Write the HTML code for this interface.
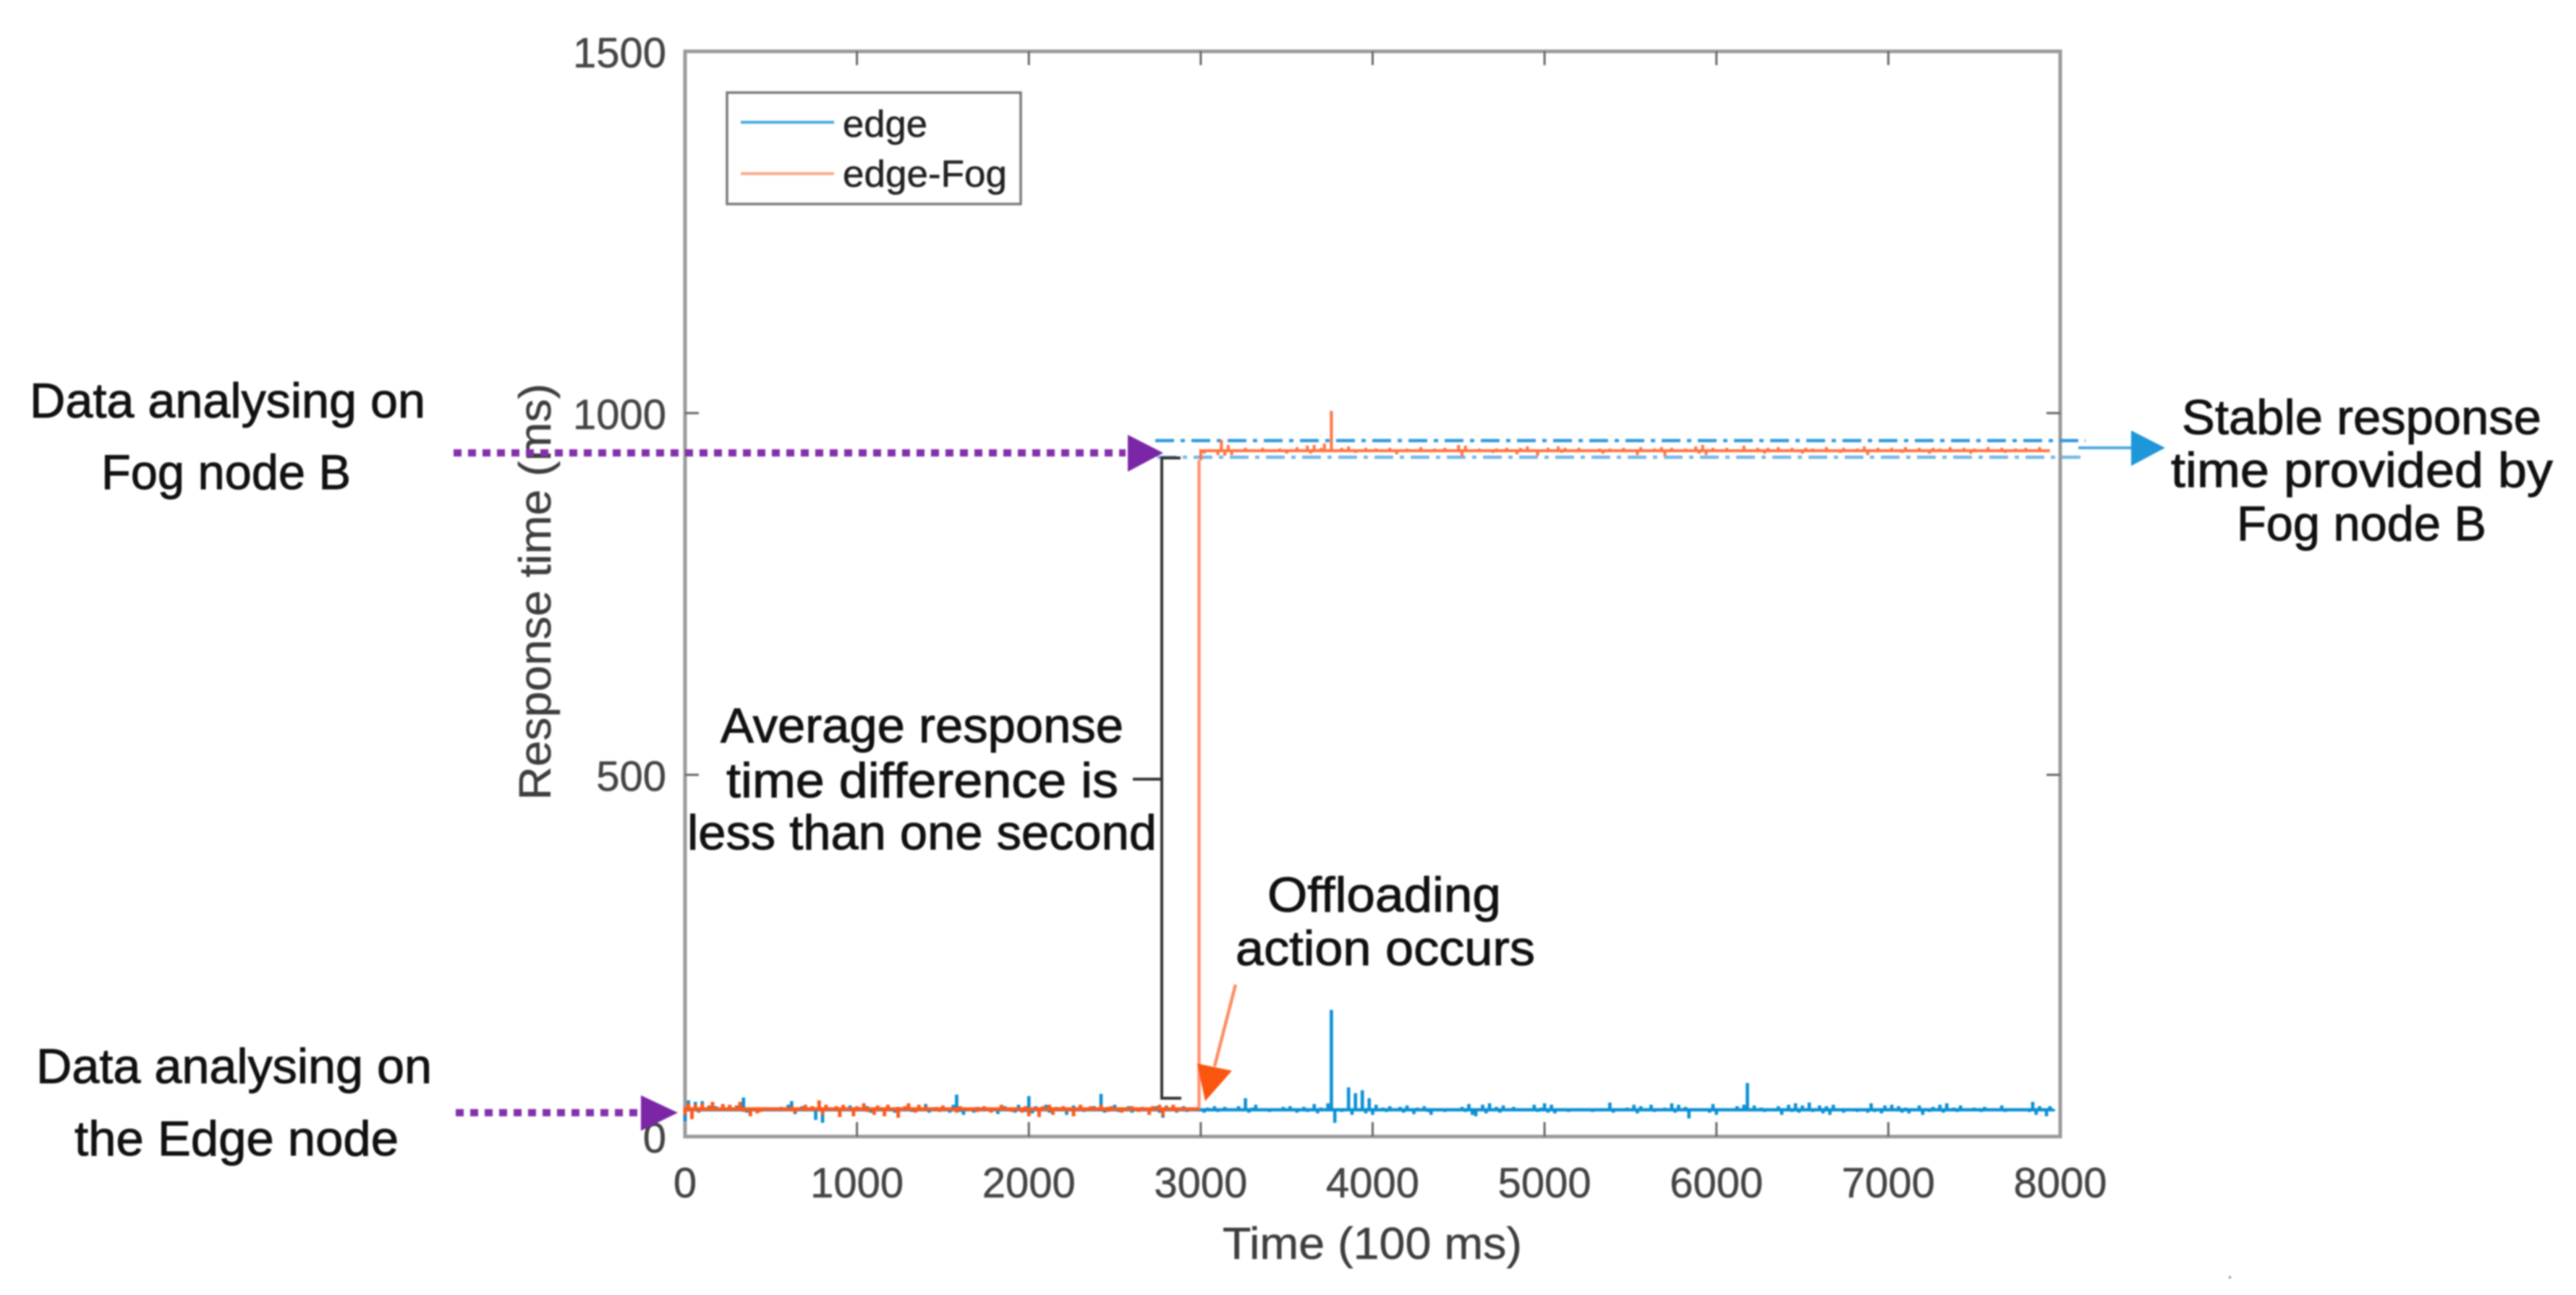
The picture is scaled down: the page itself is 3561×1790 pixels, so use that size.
<!DOCTYPE html>
<html lang="en">
<head>
<meta charset="utf-8">
<title>Response time chart</title>
<style>
html,body{margin:0;padding:0;background:#fff;width:3561px;height:1790px;overflow:hidden}
svg{display:block;filter:blur(1.1px)}
text{font-family:"Liberation Sans",sans-serif}
.callout{font-size:68px;fill:#111;stroke:#111;stroke-width:1}
.tick{font-size:58px;fill:#444;stroke:#444;stroke-width:.5}
.axis-title{font-size:62px;fill:#3e3e3e;stroke:#3e3e3e;stroke-width:.5}
.legend-text{font-size:52px;fill:#222;stroke:#222;stroke-width:.6}
</style>
</head>
<body>
<svg id="chart" xmlns="http://www.w3.org/2000/svg" width="3561" height="1790" viewBox="0 0 3561 1790">
  <rect x="0" y="0" width="3561" height="1790" fill="#fff"/>
  <rect x="947" y="71" width="1901" height="1500" fill="none" stroke="#9a9a9a" stroke-width="5"/>
  <g id="ticks"></g>

  <text class="axis-title" transform="translate(761,1106) rotate(-90)" textLength="576" lengthAdjust="spacingAndGlyphs">Response time (ms)</text>
  <text class="axis-title" x="1690" y="1740" textLength="414" lengthAdjust="spacingAndGlyphs">Time (100 ms)</text>

  <line x1="1597" y1="609" x2="2883" y2="609" stroke="#2f9adb" stroke-width="4.5" stroke-dasharray="26 9 6 9"/>
  <line x1="1600" y1="632" x2="2883" y2="632" stroke="#74b8e6" stroke-width="4.5" stroke-dasharray="26 9 6 9"/>

  <g id="series"></g>

  <g>
    <rect x="1005" y="128" width="406" height="154" fill="#fff" stroke="#7a7a7a" stroke-width="3.5"/>
    <line x1="1024" y1="169" x2="1153" y2="169" stroke="#45aee0" stroke-width="4"/>
    <line x1="1024" y1="240" x2="1153" y2="240" stroke="#ffa68a" stroke-width="4"/>
    <text class="legend-text" x="1165" y="189" textLength="117" lengthAdjust="spacingAndGlyphs">edge</text>
    <text class="legend-text" x="1165" y="258" textLength="227" lengthAdjust="spacingAndGlyphs">edge-Fog</text>
  </g>

  <path d="M1632 633 H1606 V1518 H1633 M1606 1077 H1566" fill="none" stroke="#333" stroke-width="4"/>

  <line x1="627" y1="626" x2="1556" y2="626" stroke="#8430aa" stroke-width="10" stroke-dasharray="11 9"/>
  <polygon points="1559,601 1608,626 1559,652" fill="#7b26a6"/>
  <line x1="630" y1="1538" x2="884" y2="1538" stroke="#8430aa" stroke-width="10" stroke-dasharray="11 9"/>
  <polygon points="886,1514 937,1538 886,1563" fill="#7b26a6"/>

  <line x1="2873" y1="619" x2="2950" y2="619" stroke="#4aa9e2" stroke-width="4"/>
  <polygon points="2946,595 2993,619 2946,644" fill="#1e97d8"/>

  <line x1="1708" y1="1361" x2="1679" y2="1474" stroke="#ff8a60" stroke-width="4.5"/>
  <polygon points="1655,1470 1703,1480 1666,1522" fill="#fb5510"/>

  <text class="callout" x="41" y="577" textLength="547" lengthAdjust="spacingAndGlyphs">Data analysing on</text>
  <text class="callout" x="140" y="676" textLength="345" lengthAdjust="spacingAndGlyphs">Fog node B</text>
  <text class="callout" x="50" y="1497" textLength="547" lengthAdjust="spacingAndGlyphs">Data analysing on</text>
  <text class="callout" x="103" y="1597" textLength="448" lengthAdjust="spacingAndGlyphs">the Edge node</text>
  <text class="callout" x="996" y="1026" textLength="557" lengthAdjust="spacingAndGlyphs">Average response</text>
  <text class="callout" x="1004" y="1102" textLength="542" lengthAdjust="spacingAndGlyphs">time difference is</text>
  <text class="callout" x="950" y="1174" textLength="649" lengthAdjust="spacingAndGlyphs">less than one second</text>
  <text class="callout" x="1752" y="1260" textLength="323" lengthAdjust="spacingAndGlyphs">Offloading</text>
  <text class="callout" x="1708" y="1334" textLength="414" lengthAdjust="spacingAndGlyphs">action occurs</text>
  <text class="callout" x="3016" y="600" textLength="497" lengthAdjust="spacingAndGlyphs">Stable response</text>
  <text class="callout" x="3001" y="673" textLength="528" lengthAdjust="spacingAndGlyphs">time provided by</text>
  <text class="callout" x="3092" y="747" textLength="345" lengthAdjust="spacingAndGlyphs">Fog node B</text>

  <rect x="3081" y="1764" width="3" height="3" fill="#888"/>
</svg>
<script>
const xTickValues = [0,1000,2000,3000,4000,5000,6000,7000,8000];
const yTickValues = [0,500,1000,1500];
const sampleStep = 20;
const offloadTime = 2990;

const edgeValues = [
21,50,30,48,33,49,35,43,36,42,38,44,35,41,37,43,40,54,33,38,
36,40,35,39,37,40,36,38,41,37,44,49,31,36,42,38,35,40,23,37,
19,36,40,37,42,35,39,36,43,34,40,36,38,42,33,40,37,35,39,41,
37,33,41,36,39,43,34,37,40,35,45,33,36,41,38,42,36,33,44,58,
34,30,40,37,33,41,36,42,35,38,40,31,37,42,36,39,33,44,36,34,
56,32,42,35,38,44,33,37,41,35,40,30,38,43,36,41,34,39,37,42,
36,59,33,41,37,44,34,40,36,42,33,38,35,41,37,34,39,42,33,26,
43,35,40,33,38,42,34,37,40,36,37,33,40,36,42,34,37,41,35,39,
36,42,35,53,33,40,44,35,38,36,34,39,36,37,41,36,42,38,33,37,
41,34,38,45,32,40,36,46,175,19,38,34,36,68,30,60,36,64,32,53,
30,44,36,40,34,42,37,35,41,33,43,36,31,40,36,42,34,30,38,36,
36,34,37,38,36,38,41,34,45,30,28,36,44,32,46,36,41,33,43,35,
37,41,36,38,35,39,37,44,34,40,46,33,44,32,36,37,35,34,37,36,
38,35,37,36,34,38,36,37,35,47,33,37,38,35,40,36,44,32,42,35,
38,44,34,39,35,40,37,46,33,44,36,41,25,37,38,35,39,36,33,45,
30,38,36,37,36,38,42,35,44,74,37,43,36,40,34,38,36,37,42,30,
36,44,34,46,33,43,36,47,34,38,43,32,42,30,44,36,37,33,38,36,
37,34,38,36,33,46,34,38,32,43,36,44,35,42,33,40,32,38,36,43,
30,38,34,41,36,44,33,46,35,40,34,43,36,38,36,40,37,34,41,36,
38,35,37,43,34,39,36,38,36,35,37,34,48,30,42,36,28,42,38
];

const fogBeforeOffload = [
30,46,24,44,34,46,36,42,48,40,36,45,38,44,36,42,48,34,40,28,
38,32,34,38,36,40,37,38,36,40,35,42,33,39,37,44,36,42,36,50,
30,44,36,38,42,27,44,36,40,28,42,36,46,34,38,30,43,36,28,44,
37,40,26,38,42,46,36,33,44,35,42,38,36,40,34,43,38,36,40,33,
42,36,40,35,38,34,36,42,37,33,40,36,44,36,38,34,40,36,33,42,
28,40,36,27,42,38,44,30,38,36,42,34,40,28,38,44,35,38,42,36,
40,44,38,34,42,36,40,33,38,36,42,38,34,40,36,30,42,36,44,28,
42,38,44,34,36,40,38,36,40,36
];

const fogAfterOffload = [
935,944,946,950,946,942,963,941,956,942,950,946,948,952,947,950,948,946,952,948,
947,950,946,951,948,944,950,948,953,947,950,955,944,956,948,952,958,948,1003,950,
946,952,947,954,948,945,950,947,952,946,949,951,947,950,948,952,946,943,950,947,
951,948,950,947,953,948,950,947,951,949,947,952,948,950,947,956,940,955,947,950,
948,951,947,950,948,945,951,949,946,952,948,950,943,952,947,954,946,950,941,950,
948,952,947,950,954,945,952,947,950,948,952,946,950,947,950,948,951,944,949,951,
947,950,948,952,946,949,947,942,953,950,947,949,951,948,953,941,948,952,947,950,
948,951,946,950,954,944,956,942,948,952,947,950,948,952,946,950,947,950,955,948,
950,946,952,948,944,952,947,950,953,947,950,948,952,946,950,944,952,948,951,947,
950,948,953,946,950,948,945,952,947,950,948,951,947,954,942,950,948,952,946,950,
947,952,948,950,945,953,948,950,946,952,947,950,944,952,948,951,947,950,953,946,
950,948,952,947,944,951,948,950,946,953,948,950,947,952,945,950,948,951,947,950,
952,946,950,948,953,947,950,948
];

const SVG_NS = "http://www.w3.org/2000/svg";
const plot = {left: 947, right: 2848, top: 71, bottom: 1571};
const xDomain = [0, 8000];
const yDomain = [0, 1500];

function xScale(v) {
  return plot.left + (v - xDomain[0]) / (xDomain[1] - xDomain[0]) * (plot.right - plot.left);
}
function yScale(v) {
  return plot.bottom - (v - yDomain[0]) / (yDomain[1] - yDomain[0]) * (plot.bottom - plot.top);
}
function median(values) {
  const sorted = values.slice().sort(function (a, b) { return a - b; });
  return sorted[Math.floor(sorted.length / 2)];
}
/* Each sample is a sharp vertical excursion from the series' running level,
   which is how the dense trace reads at this resolution. */
function spikePath(values, startTime) {
  const level = yScale(median(values)).toFixed(2);
  return values.map(function (v, i) {
    const x = xScale(startTime + i * sampleStep).toFixed(2);
    const cmd = i === 0 ? "M" : "L";
    return cmd + x + " " + level + " L" + x + " " + yScale(v).toFixed(2) + " L" + x + " " + level;
  }).join(" ");
}

const ticksGroup = document.getElementById("ticks");
const seriesGroup = document.getElementById("series");

function addTickLine(x1, y1, x2, y2) {
  const l = document.createElementNS(SVG_NS, "line");
  l.setAttribute("x1", x1);
  l.setAttribute("y1", y1);
  l.setAttribute("x2", x2);
  l.setAttribute("y2", y2);
  l.setAttribute("stroke", "#666");
  l.setAttribute("stroke-width", "3");
  
  
  ticksGroup.appendChild(l);
}

xTickValues.forEach(function (v) {
  const x = xScale(v);
  if (v !== xDomain[0] && v !== xDomain[1]) {
    addTickLine(x, plot.bottom, x, plot.bottom - 20);
    addTickLine(x, plot.top, x, plot.top + 19);
  }
  const t = document.createElementNS(SVG_NS, "text");
  t.setAttribute("class", "tick");
  t.setAttribute("x", x);
  t.setAttribute("y", 1655);
  t.setAttribute("text-anchor", "middle");
  
  
  t.textContent = String(v);
  ticksGroup.appendChild(t);
});

yTickValues.forEach(function (v) {
  const y = yScale(v);
  if (v !== yDomain[0] && v !== yDomain[1]) {
    addTickLine(plot.left, y, plot.left + 19, y);
    addTickLine(plot.right, y, plot.right - 19, y);
  }
  const t = document.createElementNS(SVG_NS, "text");
  t.setAttribute("class", "tick");
  t.setAttribute("x", 921);
  t.setAttribute("y", y + 22);
  t.setAttribute("text-anchor", "end");
  
  
  t.textContent = String(v);
  ticksGroup.appendChild(t);
});

const edgeLine = document.createElementNS(SVG_NS, "path");
edgeLine.setAttribute("d", spikePath(edgeValues, 0));
edgeLine.setAttribute("fill", "none");
edgeLine.setAttribute("stroke", "#0a8fd4");
edgeLine.setAttribute("stroke-width", "4.6");


seriesGroup.appendChild(edgeLine);

const fogRiseLine = document.createElementNS(SVG_NS, "path");
fogRiseLine.setAttribute("d", "M" + xScale(offloadTime).toFixed(2) + " " + yScale(median(fogBeforeOffload)).toFixed(2) + " V" + yScale(fogAfterOffload[0]).toFixed(2));
fogRiseLine.setAttribute("fill", "none");
fogRiseLine.setAttribute("stroke", "#ff9474");
fogRiseLine.setAttribute("stroke-width", "4.5");


seriesGroup.appendChild(fogRiseLine);

const fogLowLine = document.createElementNS(SVG_NS, "path");
fogLowLine.setAttribute("d", spikePath(fogBeforeOffload, 0));
fogLowLine.setAttribute("fill", "none");
fogLowLine.setAttribute("stroke", "#fb5a1e");
fogLowLine.setAttribute("stroke-width", "5");


seriesGroup.appendChild(fogLowLine);

const fogHighLine = document.createElementNS(SVG_NS, "path");
fogHighLine.setAttribute("d", spikePath(fogAfterOffload, fogBeforeOffload.length * sampleStep));
fogHighLine.setAttribute("fill", "none");
fogHighLine.setAttribute("stroke", "#ff7240");
fogHighLine.setAttribute("stroke-width", "4");


seriesGroup.appendChild(fogHighLine);
</script>
</body>
</html>
